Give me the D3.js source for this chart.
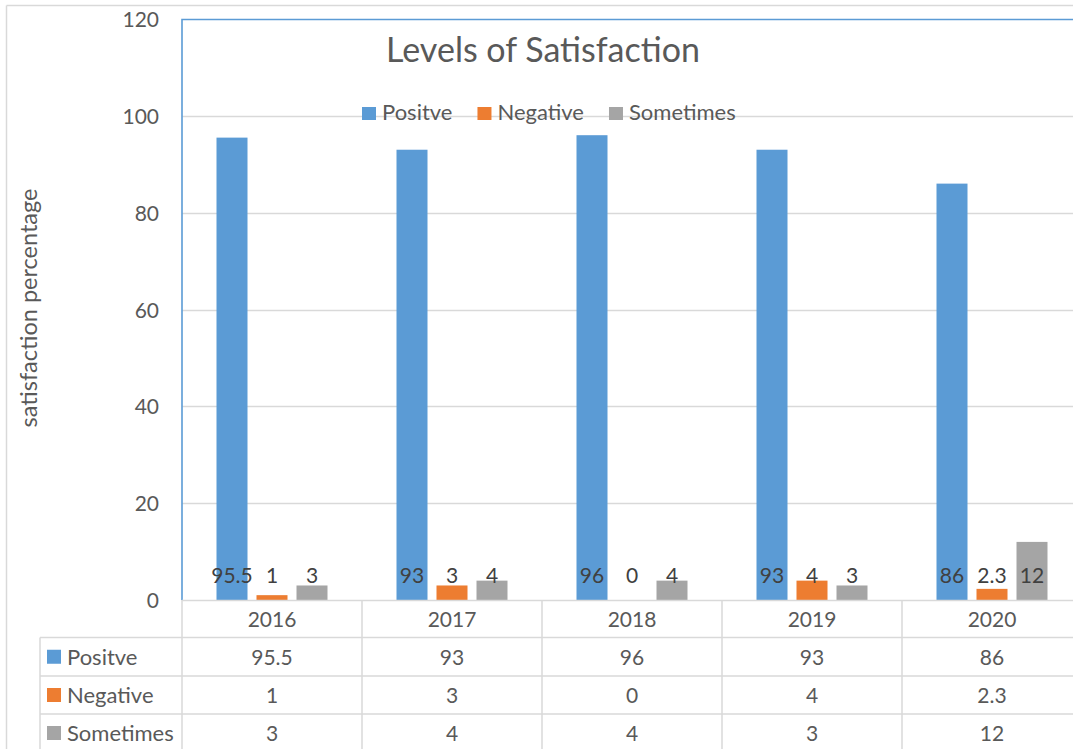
<!DOCTYPE html>
<html>
<head>
<meta charset="utf-8">
<script src="https://cdn.jsdelivr.net/npm/d3@7"></script>
<style>
  html, body { margin: 0; padding: 0; background: #ffffff; }
  svg { display: block; font-family: Lato, "Open Sans", sans-serif; }
</style>
</head>
<body>
<svg id="chart" width="1073" height="749"></svg>
<script>
// ---- data ----
const categories = ["2016", "2017", "2018", "2019", "2020"];
const seriesNames = ["Positve", "Negative", "Sometimes"];
const positive = [95.5, 93, 96, 93, 86];
const negative = [1, 3, 0, 4, 2.3];
const sometimes = [3, 4, 4, 3, 12];
const yTicks = [0, 20, 40, 60, 80, 100, 120];
const chartTitle = "Levels of Satisfaction";
const yAxisTitle = "satisfaction percentage";

const seriesValues = [positive, negative, sometimes];
const colors = ["#5B9BD5", "#ED7D31", "#A5A5A5"];

const svg = d3.select("#chart");
const W = 1073, H = 749;
const plot = { left: 182, right: 1082, top: 19, bottom: 600 };
const gridColor = "#D9D9D9";
const textColor = "#595959";
const numSize = 21, txtSize = 22;

// outer chart-area frame
svg.append("line").attr("x1", 6.5).attr("x2", W).attr("y1", 5.5).attr("y2", 5.5)
  .attr("stroke", gridColor).attr("stroke-width", 1.5);
svg.append("line").attr("x1", 6.5).attr("x2", 6.5).attr("y1", 5.5).attr("y2", H)
  .attr("stroke", gridColor).attr("stroke-width", 1.5);

// scales
const y = d3.scaleLinear().domain([0, 120]).range([plot.bottom, plot.top]);
const x0 = d3.scaleBand().domain(categories).range([plot.left, plot.right]).padding(0);
const x1 = d3.scaleBand().domain(seriesNames).range([0, x0.bandwidth()])
  .paddingInner(0.225).paddingOuter(0.8625);

// gridlines
svg.append("g").selectAll("line").data(yTicks.filter(t => t > 0 && t < 120)).join("line")
  .attr("x1", plot.left).attr("x2", W)
  .attr("y1", d => Math.round(y(d)) + 0.5).attr("y2", d => Math.round(y(d)) + 0.5)
  .attr("stroke", gridColor).attr("stroke-width", 1.3);

// y axis tick labels
const yAxis = d3.axisLeft(y).tickValues(yTicks).tickSize(0).tickPadding(0);
const gy = svg.append("g").attr("transform", "translate(159,0)").call(yAxis);
gy.select(".domain").remove();
gy.selectAll("text").attr("fill", textColor).attr("font-size", numSize)
  .attr("font-family", "Lato, sans-serif").attr("dy", "0.36em");

// bars
const groups = svg.append("g").selectAll("g").data(categories).join("g")
  .attr("transform", d => `translate(${x0(d)},0)`);
groups.selectAll("rect")
  .data((d, i) => seriesNames.map((s, j) => ({ s, v: seriesValues[j][i], j })))
  .join("rect")
  .attr("x", d => x1(d.s))
  .attr("width", x1.bandwidth())
  .attr("y", d => y(d.v))
  .attr("height", d => y(0) - y(d.v))
  .attr("fill", d => colors[d.j]);

// data labels (inside base)
groups.selectAll("text.lbl")
  .data((d, i) => seriesNames.map((s, j) => ({ s, v: seriesValues[j][i], j })))
  .join("text").attr("class", "lbl")
  .attr("x", d => x1(d.s) + x1.bandwidth() / 2)
  .attr("y", y(0) - 17)
  .attr("text-anchor", "middle")
  .attr("font-size", numSize)
  .attr("fill", "#404040")
  .text(d => d.v);

// plot-area border (blue)
svg.append("path")
  .attr("d", `M${plot.left},${plot.bottom} V${plot.top + 0.5} H${W}`)
  .attr("fill", "none").attr("stroke", "#5B9BD5").attr("stroke-width", 1.6);

// title
svg.append("text").attr("x", 543).attr("y", 62).attr("text-anchor", "middle")
  .attr("font-size", 34).attr("fill", textColor).text(chartTitle);

// legend (flow layout)
const legend = svg.append("g");
let lx = 362;
seriesNames.forEach((s, j) => {
  legend.append("rect").attr("x", lx).attr("y", 107).attr("width", 14).attr("height", 13)
    .attr("fill", colors[j]);
  const t = legend.append("text").attr("x", lx + 20).attr("y", 120)
    .attr("font-size", txtSize).attr("fill", textColor).text(s);
  lx += 20 + t.node().getComputedTextLength() + 25;
});

// y axis title
svg.append("text")
  .attr("transform", `translate(37,${308}) rotate(-90)`)
  .attr("text-anchor", "middle").attr("font-size", 23.5).attr("fill", textColor)
  .text(yAxisTitle);

// ---- data table ----
const rowTop = [600, 637.5, 676, 714];
const rowH = [37.5, 38.5, 38, 38];
const tableLeft = 40;
const tbl = svg.append("g");
tbl.append("line").attr("x1", plot.left).attr("x2", W).attr("y1", 600.5).attr("y2", 600.5)
  .attr("stroke", gridColor).attr("stroke-width", 1.5);
rowTop.slice(1).forEach(ry => {
  tbl.append("line").attr("x1", tableLeft).attr("x2", W).attr("y1", ry).attr("y2", ry)
    .attr("stroke", gridColor).attr("stroke-width", 1.5);
});
tbl.append("line").attr("x1", tableLeft).attr("x2", tableLeft).attr("y1", rowTop[1]).attr("y2", H)
  .attr("stroke", gridColor).attr("stroke-width", 1.5);
categories.forEach(c => {
  tbl.append("line").attr("x1", x0(c)).attr("x2", x0(c)).attr("y1", 600).attr("y2", H)
    .attr("stroke", gridColor).attr("stroke-width", 1.5);
});
tbl.selectAll("text.cat").data(categories).join("text").attr("class", "cat")
  .attr("x", d => x0(d) + x0.bandwidth() / 2)
  .attr("y", rowTop[0] + rowH[0] / 2 + 8)
  .attr("text-anchor", "middle").attr("font-size", numSize).attr("fill", textColor)
  .text(d => d);
seriesNames.forEach((s, j) => {
  const cy = rowTop[j + 1] + rowH[j + 1] / 2;
  tbl.append("rect").attr("x", 47).attr("y", cy - 7).attr("width", 14).attr("height", 14)
    .attr("fill", colors[j]);
  tbl.append("text").attr("x", 67).attr("y", cy + 8).attr("font-size", txtSize)
    .attr("fill", textColor).text(s);
  tbl.selectAll(null).data(seriesValues[j]).join("text")
    .attr("x", (d, i) => x0(categories[i]) + x0.bandwidth() / 2)
    .attr("y", cy + 8)
    .attr("text-anchor", "middle").attr("font-size", numSize).attr("fill", textColor)
    .text(d => d);
});
</script>
</body>
</html>
